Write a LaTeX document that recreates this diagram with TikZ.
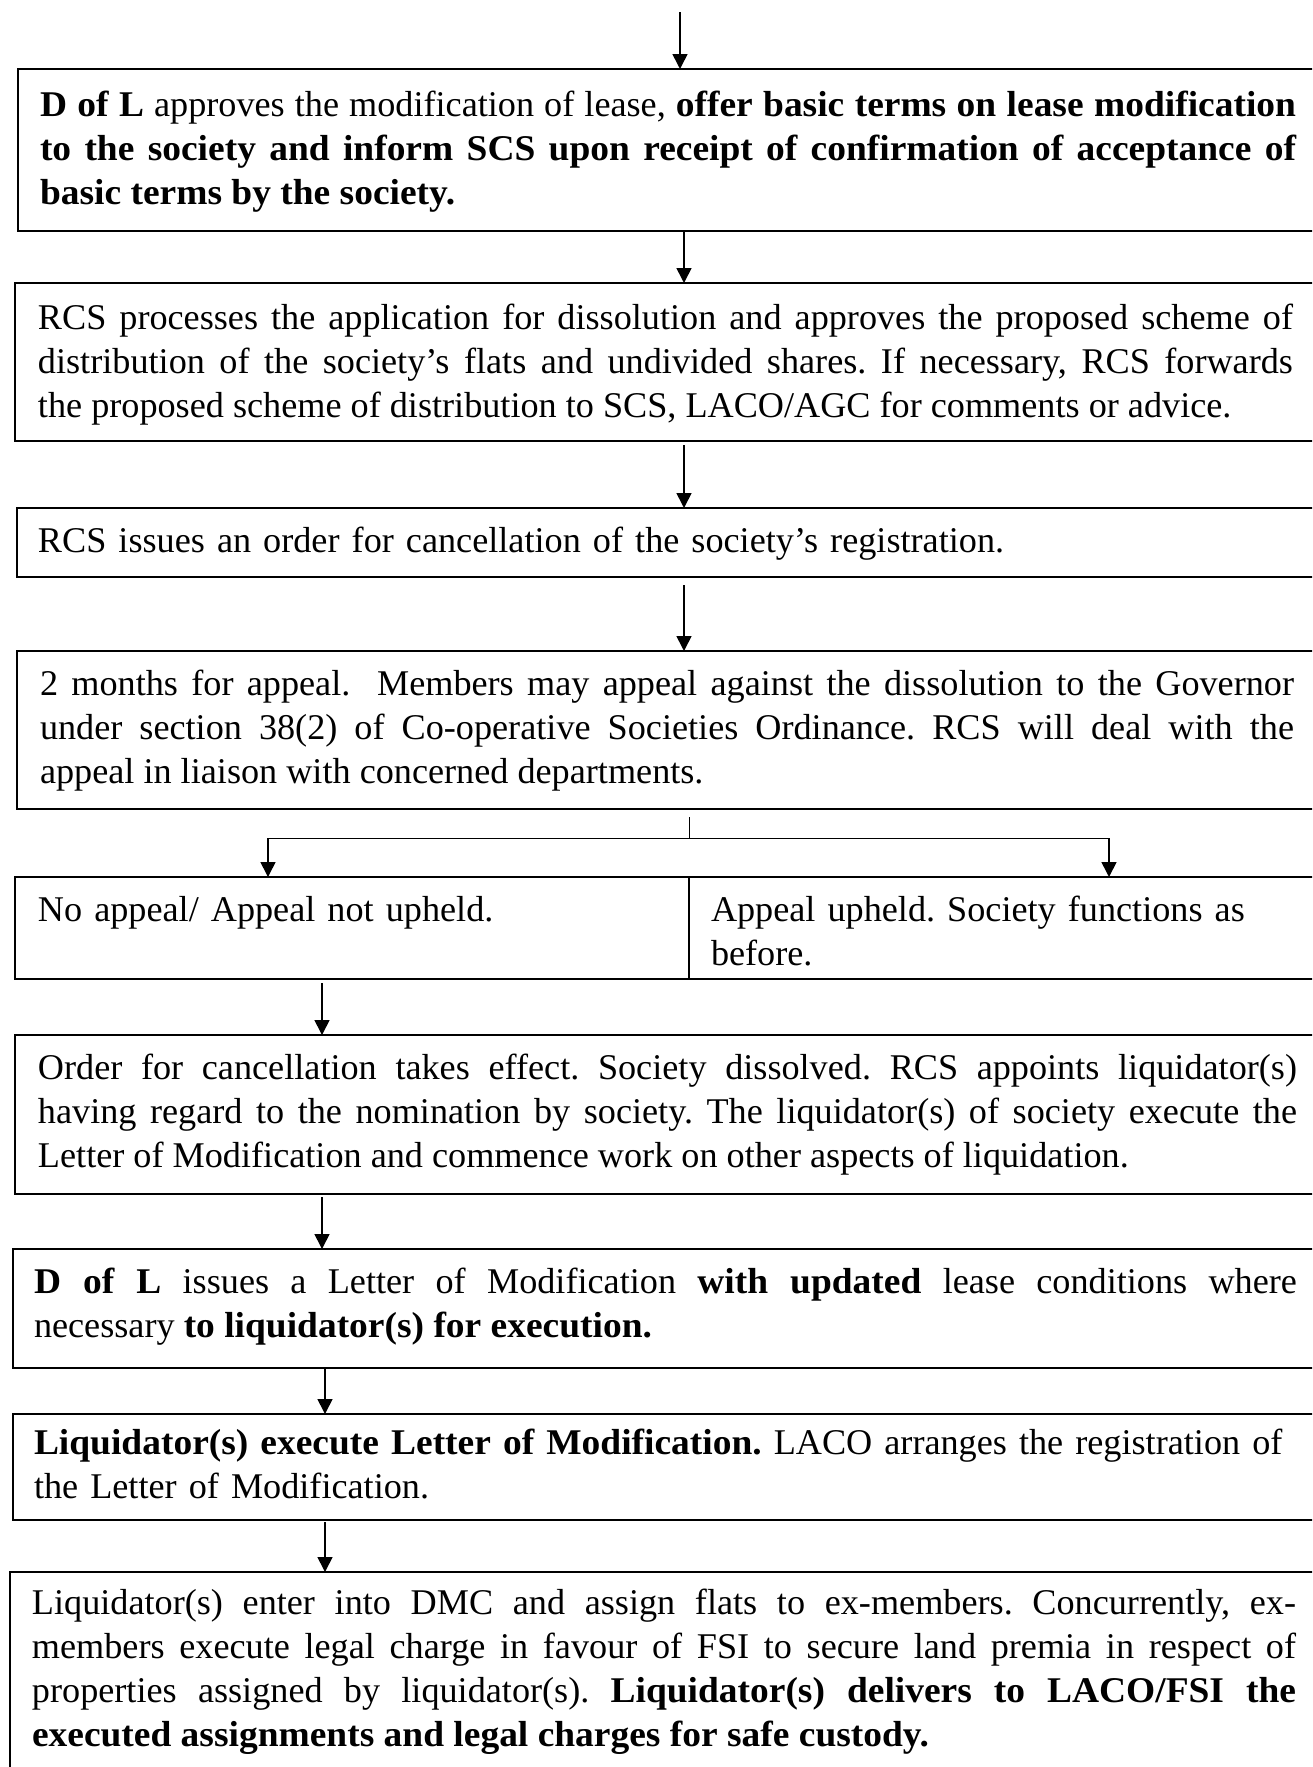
\documentclass[tikz,border=0pt]{standalone}
\usepackage{fontspec}
\setmainfont{Liberation Serif}[BoldFeatures={FakeStretch=1.035}]
\usetikzlibrary{arrows.meta}
\frenchspacing
\begin{document}
\begin{tikzpicture}[x=0.5pt,y=-0.5pt,
  box/.style={draw, line width=1pt, anchor=north west, inner sep=0pt, outer sep=0pt},
  txt/.style={anchor=base west, inner sep=0pt, outer sep=0pt, align=justify,
    font=\fontsize{18.1pt}{22pt}\selectfont\frenchspacing},
  rtxt/.style={txt, align=left},
  arr/.style={line width=0.8pt, -{Triangle[length=7.5pt,width=7.5pt]}},
  ln/.style={line width=0.5pt}]
\useasboundingbox (0,0) rectangle (1312,1767);
\clip (0,0) rectangle (1312,1767);
% boxes
\node[box, minimum width=671pt, minimum height=81pt]  (b1) at (18,69) {};
\node[box, minimum width=672.5pt, minimum height=79pt] (b2) at (15,283) {};
\node[box, minimum width=671.5pt, minimum height=34.5pt] (b3) at (17,508) {};
\node[box, minimum width=671.5pt, minimum height=79pt] (b4) at (17,651) {};
\node[box, minimum width=337pt, minimum height=51pt] (b5a) at (15,877) {};
\node[box, minimum width=335.5pt, minimum height=51pt] (b5b) at (689,877) {};
\node[box, minimum width=672.5pt, minimum height=79.5pt] (b6) at (15,1035) {};
\node[box, minimum width=673.5pt, minimum height=59.5pt] (b7) at (13,1249) {};
\node[box, minimum width=673.5pt, minimum height=53pt] (b8) at (13,1414) {};
\node[box, minimum width=675pt, minimum height=125pt] (b9) at (10,1572) {};
% texts
\node[txt, text width=628pt] (t1) at (40,116) {\textbf{D of L} approves the modification of lease, \textbf{offer basic terms on lease modification\linebreak to the society and inform SCS upon receipt of confirmation of acceptance of\linebreak basic terms by the society.}};
\node[txt, text width=627.5pt] (t2) at (38,329) {RCS processes the application for dissolution and approves the proposed scheme of\linebreak distribution of the society’s flats and undivided shares. If necessary, RCS forwards\linebreak the proposed scheme of distribution to SCS, LACO/AGC for comments or advice.};
\node[rtxt, text width=629pt] (t3) at (38,552) {RCS issues an order for cancellation of the society’s registration.};
\node[txt, text width=627pt] (t4) at (40,695) {2 months for appeal.\ \ Members may appeal against the dissolution to the Governor\linebreak under section 38(2) of Co-operative Societies Ordinance. RCS will deal with the\linebreak appeal in liaison with concerned departments.};
\node[rtxt, text width=320pt] (t5a) at (38,921) {No appeal/ Appeal not upheld.};
\node[rtxt, text width=293pt] (t5b) at (711,921) {Appeal upheld. Society functions as\\before.};
\node[txt, text width=629.5pt] (t6) at (38,1079) {Order for cancellation takes effect. Society dissolved. RCS appoints liquidator(s)\linebreak having regard to the nomination by society. The liquidator(s) of society execute the\linebreak Letter of Modification and commence work on other aspects of liquidation.};
\node[txt, text width=631.5pt] (t7) at (34,1293) {\textbf{D of L} issues a Letter of Modification \textbf{with updated} lease conditions where\linebreak necessary \textbf{to liquidator(s) for execution.}};
\node[rtxt, text width=640pt] (t8) at (34,1454) {\textbf{Liquidator(s) execute Letter of Modification.} LACO arranges the registration of\\the Letter of Modification.};
\node[txt, text width=632pt] (t9) at (32,1614) {Liquidator(s) enter into DMC and assign flats to ex-members. Concurrently, ex-\linebreak members execute legal charge in favour of FSI to secure land premia in respect of\linebreak properties assigned by liquidator(s). \textbf{Liquidator(s) delivers to LACO/FSI the\linebreak executed assignments and legal charges for safe custody.}};
% connector coordinates
\coordinate (top) at (680,12);
\coordinate (cx) at (684,0);
\coordinate (lx) at (322,0);
\coordinate (lx2) at (325,0);
\coordinate (jtop) at (689,817);
\coordinate (j) at (689,838);
\coordinate (jl) at (268,838);
\coordinate (jr) at (1109,838);
% connectors
\draw[arr] (top) -- (top |- b1.north);
\draw[arr] (cx |- b1.south) -- (cx |- b2.north);
\draw[arr] ([yshift=-2pt]cx |- b2.south) -- (cx |- b3.north);
\draw[arr] ([yshift=-4pt]cx |- b3.south) -- (cx |- b4.north);
\draw[ln] (jtop) -- (j);
\draw[ln] (jl) -- (jr);
\draw[arr] (jl) -- (jl |- b5a.north);
\draw[arr] (jr) -- (jr |- b5b.north);
\draw[arr] ([yshift=-2pt]lx |- b5a.south) -- (lx |- b6.north);
\draw[arr] ([yshift=-1.5pt]lx |- b6.south) -- (lx |- b7.north);
\draw[arr] (lx2 |- b7.south) -- (lx2 |- b8.north);
\draw[arr] ([yshift=-1pt]lx2 |- b8.south) -- (lx2 |- b9.north);
\end{tikzpicture}
\end{document}
